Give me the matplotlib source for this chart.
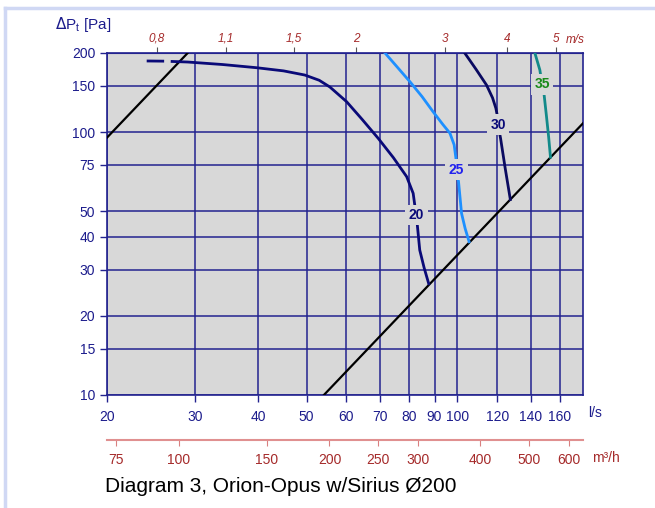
import matplotlib.pyplot as plt
import numpy as np
from matplotlib.ticker import FixedLocator, NullLocator, FixedFormatter
from matplotlib.lines import Line2D

plt.rcParams['font.family'] = ['Liberation Sans', 'DejaVu Sans']

# axis ticks
flow_ticks = [20, 30, 40, 50, 60, 70, 80, 90, 100, 120, 140, 160]
press_ticks = [10, 15, 20, 30, 40, 50, 75, 100, 150, 200]
vel_ticks = [0.8, 1.1, 1.5, 2, 3, 4, 5]
vel_labels = ['0,8', '1,1', '1,5', '2', '3', '4', '5']
m3h_ticks = [75, 100, 150, 200, 250, 300, 400, 500, 600]

# system curves dp = k * q^2
k_low = 0.00341
k_high = 0.2383

# fan curves, l/s vs Pa
q20_dash = [24.0, 26.0]
p20_dash = [186.5, 186.2]
q20 = [26.8, 28.97, 34.0, 39.77, 45.0, 49.6, 53.0, 55.66, 60.1, 64.5, 69.5, 74.5, 79.2, 81.6, 82.2, 82.8, 83.3, 84.1, 85.8, 87.8]
p20 = [185.8, 184.8, 180.8, 175.8, 171.0, 164.9, 157.5, 148.5, 130.6, 112.0, 94.7, 80.0, 67.7, 58.5, 52.8, 48.4, 43.0, 35.6, 30.5, 26.2]
q25 = [71.7, 76.0, 80.4, 85.0, 89.4, 93.5, 96.6, 98.5, 99.3, 99.6, 100.5, 101.9, 103.6, 105.5]
p25 = [200, 176, 155.5, 136.5, 119.6, 107.0, 99.1, 89.5, 79.6, 71.8, 64.8, 49.1, 43.0, 38.3]
q30 = [103.4, 109.0, 114.3, 117.5, 119.3, 120.2, 120.5, 121.9, 124.5, 127.5]
p30 = [200, 173, 151.0, 135.0, 123.3, 114.5, 106.5, 94.7, 73.0, 55.4]
q35 = [142.7, 146.0, 146.7, 147.6, 148.9, 150.5, 152.0, 153.3]
p35 = [200, 172.4, 162.6, 151.8, 138.5, 115.0, 96.0, 80.3]

navy = '#1c1c8c'
grid_c = '#23238f'
red = '#a52a2a'

fig = plt.figure(figsize=(6.55, 5.08), dpi=100)
ax = fig.add_axes([107/655, 1-395/508, 476/655, 342/508])
ax.set_facecolor('#d8d8d8')
ax.set_xscale('log')
ax.set_yscale('log')
ax.set_xlim(20, 178)
ax.set_ylim(10, 200)

ax.xaxis.set_major_locator(FixedLocator(flow_ticks))
ax.xaxis.set_major_formatter(FixedFormatter([str(t) for t in flow_ticks]))
ax.xaxis.set_minor_locator(NullLocator())
ax.yaxis.set_major_locator(FixedLocator(press_ticks))
ax.yaxis.set_major_formatter(FixedFormatter([str(t) for t in press_ticks]))
ax.yaxis.set_minor_locator(NullLocator())
ax.tick_params(colors=grid_c, labelcolor=navy, labelsize=10, length=5, width=1)
ax.tick_params(axis='x', pad=6)
for s in ax.spines.values():
    s.set_color(grid_c)
    s.set_linewidth(1.2)
ax.grid(True, color=grid_c, linewidth=1.1)
ax.set_axisbelow(True)

qq = np.geomspace(20, 178, 200)
ax.plot(qq, k_low * qq**2, color='black', lw=1.6, zorder=3)
ax.plot(qq, k_high * qq**2, color='black', lw=1.6, zorder=3)

ax.plot(q20_dash, p20_dash, color='#0a0a78', lw=2, zorder=3, solid_capstyle='butt')
ax.plot(q20, p20, color='#0a0a78', lw=2, zorder=3, solid_capstyle='butt')
ax.plot(q25, p25, color='#1e90ff', lw=2, zorder=3)
ax.plot(q30, p30, color='#0a0a60', lw=2, zorder=3)
ax.plot(q35, p35, color='#138a8a', lw=2, zorder=3)

box = dict(facecolor='#d8d8d8', edgecolor='none', pad=2.5)
ax.text(q20[15], p20[15], '20', color='#0a0a78', fontsize=10, fontweight='bold',
        ha='center', va='center', bbox=box, zorder=4)
ax.text(q25[9], p25[9], '25', color='#2222ee', fontsize=10, fontweight='bold',
        ha='center', va='center', bbox=box, zorder=4)
ax.text(q30[6], p30[6], '30', color='#0a0a78', fontsize=10, fontweight='bold',
        ha='center', va='center', bbox=box, zorder=4)
ax.text(q35[3], p35[3], '35', color='#1a8a1a', fontsize=10, fontweight='bold',
        ha='center', va='center', bbox=box, zorder=4)

# velocity axis on top, duct diameter 200 mm
area = np.pi * 0.1**2
top = ax.secondary_xaxis('top', functions=(lambda q: q / 1000 / area, lambda v: v * 1000 * area))
top.set_xticks(vel_ticks)
top.set_xticklabels(vel_labels, fontstyle='italic')
top.xaxis.set_minor_locator(NullLocator())
top.tick_params(colors='#555555', labelcolor=red, labelsize=8.5, length=4, pad=2)
top.spines['top'].set_color(grid_c)
fig.text(575/655, 1-40/508, 'm/s', color=red, fontsize=8.5, fontstyle='italic', ha='center', va='center')

# m3/h axis below
bot = ax.secondary_xaxis(-0.1316, functions=(lambda q: q * 3.6, lambda m: m / 3.6))
bot.set_xticks(m3h_ticks)
bot.set_xticklabels([str(t) for t in m3h_ticks])
bot.xaxis.set_minor_locator(NullLocator())
bot.tick_params(colors='#d98080', labelcolor=red, labelsize=10, length=4, pad=5)
bot.spines['bottom'].set_color('#e09090')
bot.spines['bottom'].set_linewidth(1.5)

fig.text(595/655, 1-413/508, 'l/s', color=navy, fontsize=10, ha='center', va='center')
fig.text(606/655, 1-458/508, 'm³/h', color=red, fontsize=10, ha='center', va='center')
fig.text(55/655, 1-25/508, r'$\Delta$P$_\mathregular{t}$ [Pa]', color=navy, fontsize=11, ha='left', va='center')
fig.text(105/655, 1-487/508, 'Diagram 3, Orion-Opus w/Sirius Ø200', color='black', fontsize=15, ha='left', va='center')

fig.add_artist(Line2D([5/655, 5/655], [0, 1-8/508], color='#d0d8f4', lw=2.5))
fig.add_artist(Line2D([5/655, 1], [1-8/508, 1-8/508], color='#d0d8f4', lw=2.5))

fig.savefig('out.png', dpi=100)
